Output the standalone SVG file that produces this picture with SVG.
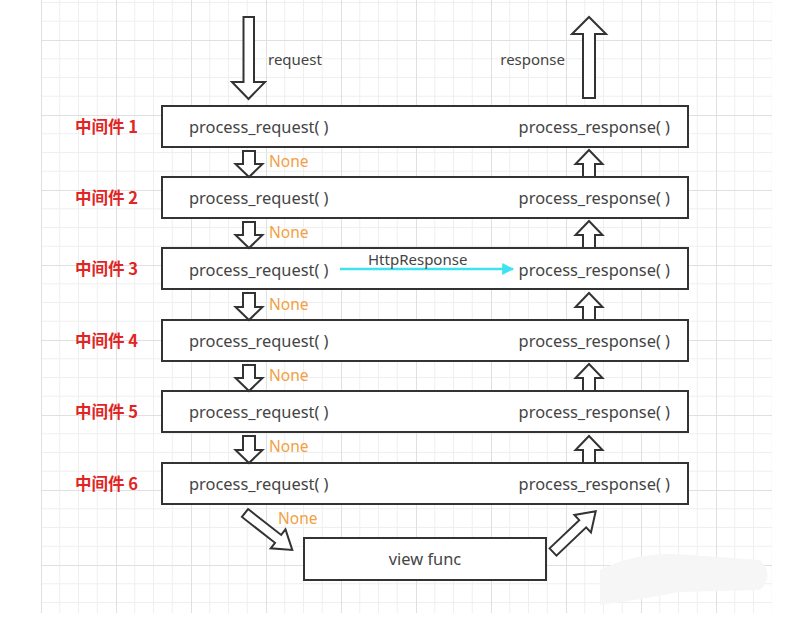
<svg xmlns="http://www.w3.org/2000/svg" width="806" height="621" viewBox="0 0 806 621">
<defs>
<pattern id="grid" patternUnits="userSpaceOnUse" x="41" y="40" width="75" height="75">
<path d="M18.75 0V75M37.5 0V75M56.25 0V75M0 18.75H75M0 37.5H75M0 56.25H75" stroke="#efefef" stroke-width="1" fill="none"/>
<path d="M0.5 0V75M0 0.5H75" stroke="#e0e0e0" stroke-width="1" fill="none"/>
</pattern>
<marker id="cyanHead" viewBox="0 0 10 10" refX="9" refY="5" markerWidth="14" markerHeight="12" markerUnits="userSpaceOnUse" orient="auto">
<path d="M0 0L10 5L0 10Z" fill="#3fe3f0"/>
</marker>
<style>
.box{fill:#fff;stroke:#333;stroke-width:2}
.harrow{fill:#fff;stroke:#333;stroke-width:2;stroke-linejoin:miter}
.fn{font-family:"Noto Sans","Open Sans",sans-serif;font-size:16.4px;fill:#444}
.lbl{font-family:"Noto Sans CJK SC","Noto Sans",sans-serif;font-size:16.5px;font-weight:bold;fill:#e02525}
.none{font-family:"Noto Sans","Open Sans",sans-serif;font-size:15.5px;fill:#f2a044}
.small{font-family:"Noto Sans","Open Sans",sans-serif;font-size:15px;fill:#444}
</style>
</defs>
<rect x="0" y="0" width="806" height="621" fill="#fff"/>
<rect x="41" y="0" width="731" height="613" fill="url(#grid)"/>
<path d="M600 570 Q640 550 690 555 L760 560 Q775 575 760 590 L680 592 Q640 600 600 605 Z" fill="#f6f6f6"/>

<g id="mw1"><rect class="box" x="162" y="106" width="526" height="41"/><text class="lbl" x="75" y="133">中间件 1</text><text class="fn" x="189" y="133">process_request( )</text><text class="fn" x="670" y="133" text-anchor="end">process_response( )</text></g>
<g id="mw2"><rect class="box" x="162" y="177" width="526" height="41"/><text class="lbl" x="75" y="204">中间件 2</text><text class="fn" x="189" y="204">process_request( )</text><text class="fn" x="670" y="204" text-anchor="end">process_response( )</text></g>
<g id="mw3"><rect class="box" x="162" y="248" width="526" height="41"/><text class="lbl" x="75" y="275">中间件 3</text><text class="fn" x="189" y="276">process_request( )</text><text class="fn" x="670" y="276" text-anchor="end">process_response( )</text></g>
<g id="mw4"><rect class="box" x="162" y="320" width="526" height="41"/><text class="lbl" x="75" y="347">中间件 4</text><text class="fn" x="189" y="347">process_request( )</text><text class="fn" x="670" y="347" text-anchor="end">process_response( )</text></g>
<g id="mw5"><rect class="box" x="162" y="391" width="526" height="41"/><text class="lbl" x="75" y="418">中间件 5</text><text class="fn" x="189" y="418">process_request( )</text><text class="fn" x="670" y="418" text-anchor="end">process_response( )</text></g>
<g id="mw6"><rect class="box" x="162" y="463" width="526" height="41"/><text class="lbl" x="75" y="490">中间件 6</text><text class="fn" x="189" y="490">process_request( )</text><text class="fn" x="670" y="490" text-anchor="end">process_response( )</text></g>
<g id="view"><rect class="box" x="304" y="538" width="242" height="42"/><text class="fn" x="425" y="565" text-anchor="middle">view func</text></g>

<g id="connectors">
<polygon class="harrow" points="243.5,17 254,17 254,82 265,82 248.5,99 232,82 243.5,82"/>
<polygon class="harrow" points="583,98 595,98 595,34 606,34 589,17 572,34 583,34"/>
<g id="down-arrows">
<polygon class="harrow" points="243,151 255,151 255,164 262.5,164 249,177 235.5,164 243,164"/>
<polygon class="harrow" points="243,222 255,222 255,235 262.5,235 249,248 235.5,235 243,235"/>
<polygon class="harrow" points="243,293 255,293 255,307 262.5,307 249,320 235.5,307 243,307"/>
<polygon class="harrow" points="243,365 255,365 255,378 262.5,378 249,391 235.5,378 243,378"/>
<polygon class="harrow" points="243,436 255,436 255,450 262.5,450 249,463 235.5,450 243,450"/>
</g>
<g id="up-arrows">
<polygon class="harrow" points="583,177 595,177 595,164 602.5,164 589,150 575.5,164 583,164"/>
<polygon class="harrow" points="583,248 595,248 595,235 602.5,235 589,221 575.5,235 583,235"/>
<polygon class="harrow" points="583,320 595,320 595,307 602.5,307 589,293 575.5,307 583,307"/>
<polygon class="harrow" points="583,391 595,391 595,378 602.5,378 589,364 575.5,378 583,378"/>
<polygon class="harrow" points="583,463 595,463 595,450 602.5,450 589,436 575.5,450 583,450"/>
</g>
<g transform="translate(245,513) rotate(38)">
<polygon class="harrow" points="0,-5 42,-5 42,-12 60,0 42,12 42,5 0,5"/>
</g>
<g transform="translate(553,552) rotate(-43.6)">
<polygon class="harrow" points="0,-5 41,-5 41,-12 59,0 41,12 41,5 0,5"/>
</g>
<line x1="340" y1="269" x2="513" y2="269" stroke="#3fe3f0" stroke-width="2.5" marker-end="url(#cyanHead)"/>
</g>

<text class="small" x="268" y="65">request</text>
<text class="small" x="565" y="65" text-anchor="end">response</text>
<text class="small" x="368" y="265">HttpResponse</text>

<g id="none-labels">
<text class="none" x="269" y="167">None</text>
<text class="none" x="269" y="238">None</text>
<text class="none" x="269" y="310">None</text>
<text class="none" x="269" y="381">None</text>
<text class="none" x="269" y="452">None</text>
<text class="none" x="278" y="524">None</text>
</g>
</svg>
